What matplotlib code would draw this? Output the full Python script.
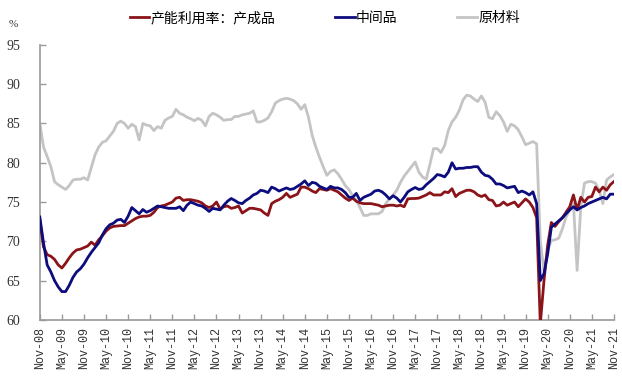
import numpy as np
import pandas as pd
import matplotlib
matplotlib.use("Agg")
import matplotlib.pyplot as plt

plt.rcParams['font.family'] = ['Noto Sans CJK SC', 'DejaVu Sans']

# monthly, Nov-08 .. Nov-21
months = pd.date_range("2008-11-01", periods=157, freq="MS")

# 产成品 (finished)
finished = [
    72.7, 69.3, 68.3, 68.1, 67.7, 67.0, 66.6, 67.2, 67.9, 68.5, 68.9, 69.0,
    69.2, 69.4, 69.9, 69.5, 70.2, 70.7, 71.3, 71.7, 71.9, 71.95, 72.0, 72.0,
    72.3, 72.6, 72.9, 73.1, 73.2, 73.2, 73.3, 73.7, 74.3, 74.5, 74.6, 74.8,
    75.0, 75.5, 75.6, 75.2, 75.3, 75.3, 75.2, 75.1, 74.9, 74.5, 74.3, 74.5,
    75.0, 74.1, 74.4, 74.5, 74.2, 74.3, 74.5, 73.6, 73.9, 74.2, 74.2, 74.1,
    74.0, 73.6, 73.3, 74.8, 75.1, 75.3, 75.6, 76.1, 75.6, 75.8, 76.0, 76.9,
    76.9, 76.7, 76.4, 76.2, 76.7, 76.6, 76.5, 76.7, 76.5, 76.3, 75.9, 75.5,
    75.2, 75.5, 75.1, 74.9, 74.8, 74.8, 74.8, 74.7, 74.6, 74.4, 74.5, 74.6,
    74.6, 74.5, 74.6, 74.4, 75.4, 75.45, 75.45, 75.5, 75.7, 75.9, 76.2, 75.9,
    75.9, 75.9, 76.3, 76.2, 76.7, 75.7, 76.1, 76.3, 76.5, 76.5, 76.3, 75.9,
    75.7, 75.9, 75.3, 75.2, 74.5, 74.6, 75.0, 74.6, 74.8, 75.0, 74.4, 74.9,
    75.4, 75.0, 74.3, 73.0, 59.5, 65.0, 69.5, 72.4, 71.9, 72.5, 73.0, 73.7,
    74.4, 75.9, 74.0, 75.6, 75.0, 75.6, 75.7, 76.9, 76.3, 76.9, 76.5, 77.2,
    77.6,
]

# 中间品 (intermediate)
intermediate = [
    73.1, 69.8, 67.0, 66.1, 65.0, 64.2, 63.6, 63.6, 64.4, 65.4, 66.1, 66.5,
    67.1, 67.9, 68.6, 69.2, 69.8, 70.8, 71.6, 72.1, 72.3, 72.7, 72.8, 72.4,
    73.2, 74.3, 73.9, 73.5, 74.05, 73.7, 73.9, 74.2, 74.5, 74.4, 74.3, 74.2,
    74.2, 74.2, 74.4, 73.9, 74.6, 75.0, 74.8, 74.6, 74.5, 74.2, 73.8, 74.2,
    74.1, 74.0, 74.6, 75.1, 75.45, 75.2, 74.9, 74.8, 75.2, 75.5, 75.9, 76.1,
    76.5, 76.4, 76.2, 76.9, 76.7, 76.4, 76.6, 76.8, 76.6, 76.7, 77.0, 77.3,
    77.7, 77.1, 77.5, 77.4, 77.0, 76.8, 76.6, 77.0, 76.8, 76.8, 76.6, 76.2,
    75.6, 75.6, 76.1, 75.2, 75.6, 75.8, 76.0, 76.4, 76.5, 76.3, 75.9, 75.4,
    75.8, 75.5, 75.0, 75.6, 76.3, 76.6, 76.85, 76.6, 76.7, 77.2, 77.6, 78.0,
    78.5, 78.4, 78.2, 78.8, 80.0, 79.2, 79.3, 79.3, 79.4, 79.4, 79.5, 79.5,
    78.8, 78.4, 78.3, 77.9, 77.3, 77.3, 77.1, 76.8, 76.9, 77.0, 76.2, 76.4,
    76.2, 75.9, 76.3, 74.8, 65.0, 65.9, 68.4, 71.8, 72.2, 72.6, 73.0, 73.5,
    74.0, 74.4, 74.0, 74.3, 74.5, 74.8, 75.0, 75.2, 75.4, 75.6, 75.4, 76.0,
    76.0,
]

# 原材料 (raw materials)
raw = [
    85.0, 82.0, 80.8, 79.5, 77.6, 77.2, 76.9, 76.6, 77.1, 77.8, 77.9, 77.9,
    78.1, 77.8, 79.4, 81.0, 82.0, 82.6, 82.8, 83.4, 84.0, 85.0, 85.3, 85.0,
    84.4, 84.9, 84.6, 82.9, 85.0, 84.8, 84.7, 84.1, 84.6, 84.4, 85.4, 85.7,
    85.9, 86.8, 86.3, 86.1, 85.8, 85.6, 85.35, 85.65, 85.4, 84.7, 85.9, 86.3,
    86.1, 85.8, 85.4, 85.5, 85.5, 85.9, 85.9, 86.1, 86.2, 86.3, 86.6, 85.2,
    85.2, 85.4, 85.7, 86.5, 87.6, 87.9, 88.1, 88.2, 88.1, 87.9, 87.5, 86.8,
    87.4, 85.8, 83.5, 82.0, 80.7, 79.5, 78.4, 78.9, 79.1, 78.6, 77.9, 77.1,
    76.6, 75.8, 75.2, 74.3, 73.3, 73.3, 73.5, 73.5, 73.5, 73.8, 74.8, 75.4,
    75.9, 76.5, 77.5, 78.3, 78.9, 79.5, 80.1, 78.8, 78.2, 77.9, 79.8, 81.8,
    81.8, 81.3, 82.2, 84.1, 85.2, 85.8, 86.7, 88.0, 88.6, 88.5, 88.1, 87.8,
    88.5, 87.7, 85.8, 85.6, 86.5, 86.0, 85.2, 84.0, 84.9, 84.7, 84.2, 83.3,
    82.3, 82.5, 82.7, 82.4, 70.0, 66.2, 68.9, 70.1, 70.2, 70.4, 71.6, 73.1,
    74.0, 74.8, 66.3, 74.4, 77.4, 77.6, 77.6, 77.4, 76.5, 74.8, 77.8, 78.2,
    78.5,
]

labels = ["产能利用率：产成品", "中间品", "原材料"]
colors = ["#8b1419", "#0c0c7e", "#c4c4c4"]

fig = plt.figure(figsize=(6.22, 3.84), dpi=100)
ax = fig.add_axes([0.064, 0.167, 0.923, 0.716])

x = np.arange(len(months))
# grey first so it sits underneath
ax.plot(x, raw, color=colors[2], lw=2.0, label=labels[2], zorder=2)
ax.plot(x, finished, color=colors[0], lw=2.0, label=labels[0], zorder=3)
ax.plot(x, intermediate, color=colors[1], lw=2.0, label=labels[1], zorder=4)

ax.set_ylim(60, 95)
ax.set_yticks(np.arange(60, 96, 5))
ax.set_xlim(0, len(months) - 1)
tick_pos = x[::6]
ax.set_xticks(tick_pos)
ax.set_xticklabels([months[i].strftime("%b-%y") for i in tick_pos],
                   rotation=90, family="Liberation Mono", fontsize=8.5,
                   color="#333333")
for t in ax.get_yticklabels():
    t.set_family("Liberation Serif")
    t.set_fontsize(10)
    t.set_color("#333333")

ax.tick_params(direction="in", length=4, color="#9a9a9a", width=1)
ax.tick_params(axis="y", pad=14)
ax.tick_params(axis="x", pad=5)
for s in ["top", "right"]:
    ax.spines[s].set_visible(False)
for s in ["left", "bottom"]:
    ax.spines[s].set_color("#9a9a9a")
    ax.spines[s].set_linewidth(1.2)

fig.text(0.022, 0.935, "%", fontsize=8, family="Liberation Serif",
         color="#333333", ha="center", va="center")

h, l = ax.get_legend_handles_labels()
order = [1, 2, 0]
fig.legend([h[i] for i in order], [l[i] for i in order],
           loc="center", bbox_to_anchor=(0.522, 0.953), ncol=3,
           frameon=False, fontsize=10, handlelength=1.4, handletextpad=0.1,
           columnspacing=4.3)

fig.savefig("out.png", dpi=100)
